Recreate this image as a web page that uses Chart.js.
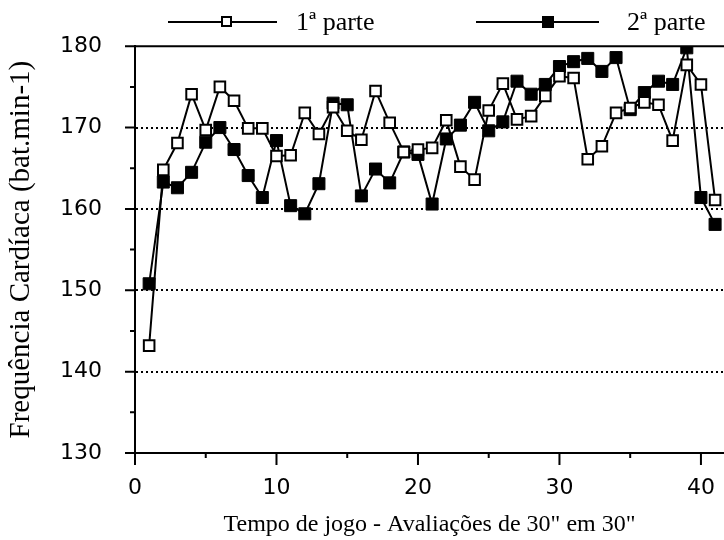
<!DOCTYPE html>
<html>
<head>
<meta charset="utf-8">
<script src="https://cdn.jsdelivr.net/npm/chart.js@4.4.1/dist/chart.umd.min.js"></script>
<style>
  body { margin: 0; background: #fff; }
  #wrap { position: relative; width: 724px; height: 540px; overflow: hidden; }
  .line { position: absolute; height: 2px; background: #000; }
  .sq { position: absolute; box-sizing: border-box; border: 2px solid #000; }
  .txt { position: absolute; font-family: "Liberation Serif", serif; font-size: 26px; line-height: 1; color: #000; white-space: nowrap; }
</style>
</head>
<body>
<div id="wrap">
  <canvas id="chart" width="724" height="540"></canvas>
  <!-- legenda -->
  <div class="line" style="left:168px;top:21px;width:109px"></div>
  <div class="sq" style="left:221px;top:16px;width:11px;height:11px;background:#fff"></div>
  <div class="txt" style="left:296px;top:9px">1ª parte</div>
  <div class="line" style="left:476px;top:21px;width:123px"></div>
  <div class="sq" style="left:542px;top:16px;width:12px;height:12px;background:#000"></div>
  <div class="txt" style="left:627px;top:9px">2ª parte</div>
</div>
<script>
// avaliações de 30" em 30"
const avaliacoes = [1,2,3,4,5,6,7,8,9,10,11,12,13,14,15,16,17,18,19,20,21,22,23,24,25,26,27,28,29,30,31,32,33,34,35,36,37,38,39,40,41];

// FC 1ª parte
const parte1 = [143.2,164.8,168.1,174.1,169.7,175.0,173.3,169.9,169.9,166.5,166.6,171.8,169.2,172.5,169.6,168.5,174.5,170.6,167.0,167.3,
                167.5,170.9,165.2,163.6,172.1,175.4,171.0,171.4,173.9,176.3,176.1,166.1,167.7,171.8,172.4,173.1,172.8,168.4,177.7,175.3,161.1];

// FC 2ª parte
const parte2 = [150.8,163.3,162.6,164.5,168.2,170.0,167.3,164.1,161.4,168.4,160.4,159.4,163.1,173.0,172.8,161.6,164.9,163.2,167.0,166.7,
                160.6,168.6,170.3,173.1,169.6,170.7,175.7,174.1,175.3,177.5,178.1,178.5,176.9,178.6,172.2,174.3,175.7,175.3,179.8,161.4,158.1];

const yMin = 130, yMax = 180;
const xMin = 0, xMax = 41.63;
const gridValues = [140, 150, 160, 170];

const toPoints = arr => arr.map((v, i) => ({ x: avaliacoes[i], y: v }));

// tracinhos dos eixos + linha de cima
const tickMarks = {
  id: 'tickMarks',
  beforeDatasetsDraw(chart) {
    const { ctx, chartArea, scales: { x, y } } = chart;
    ctx.save();
    ctx.strokeStyle = '#000';
    ctx.lineWidth = 2;
    ctx.beginPath();
    y.ticks.forEach(t => {
      const py = y.getPixelForValue(t.value);
      const len = t.value % 10 === 0 ? 10 : 5;
      ctx.moveTo(chartArea.left - len, py);
      ctx.lineTo(chartArea.left, py);
    });
    x.ticks.forEach(t => {
      const px = x.getPixelForValue(t.value);
      const len = t.value % 10 === 0 ? 12 : 5;
      ctx.moveTo(px, chartArea.bottom);
      ctx.lineTo(px, chartArea.bottom + len);
    });
    const top = y.getPixelForValue(yMax);
    ctx.moveTo(chartArea.left, top);
    ctx.lineTo(chartArea.right, top);
    ctx.stroke();
    ctx.restore();
  }
};

const tickFont = { family: 'DejaVu Sans', size: 22 };

new Chart(document.getElementById('chart'), {
  type: 'line',
  data: {
    datasets: [
      {
        label: '1ª parte',
        data: toPoints(parte1),
        borderColor: '#000',
        borderWidth: 2,
        pointStyle: 'rect',
        pointRadius: 7.5,
        pointBorderWidth: 2,
        pointBorderColor: '#000',
        pointBackgroundColor: '#fff',
        tension: 0
      },
      {
        label: '2ª parte',
        data: toPoints(parte2),
        borderColor: '#000',
        borderWidth: 2,
        pointStyle: 'rect',
        pointRadius: 8.5,
        pointBorderWidth: 1,
        pointBorderColor: '#000',
        pointBackgroundColor: '#000',
        tension: 0
      }
    ]
  },
  options: {
    responsive: false,
    animation: false,
    layout: { autoPadding: false, padding: { top: 45, right: 0, left: 0, bottom: 0 } },
    plugins: { legend: { display: false }, tooltip: { enabled: false } },
    scales: {
      x: {
        type: 'linear',
        min: xMin,
        max: xMax,
        afterFit: s => { s.height = 87; s.paddingRight = 0; s.paddingLeft = 0; },
        ticks: {
          stepSize: 5,
          includeBounds: false,
          autoSkip: false,
          maxRotation: 0,
          padding: 22,
          color: '#000',
          font: tickFont,
          callback: v => (v % 10 === 0 ? v : '')
        },
        grid: { display: false, drawTicks: false },
        border: { display: true, color: '#000', width: 2 },
        title: {
          display: true,
          text: 'Tempo de jogo - Avaliações de 30" em 30"',
          color: '#000',
          font: { family: 'Liberation Serif', size: 24 },
          padding: { top: 0, bottom: 1 }
        }
      },
      y: {
        min: yMin,
        max: yMax,
        afterFit: s => { s.width = 135; },
        ticks: {
          stepSize: 5,
          autoSkip: false,
          padding: 33,
          color: '#000',
          font: tickFont,
          callback: v => (v % 10 === 0 ? v : '')
        },
        grid: {
          drawTicks: false,
          lineWidth: 2,
          color: c => (gridValues.includes(c.tick.value) ? '#000' : 'rgba(0,0,0,0)')
        },
        border: { display: true, color: '#000', width: 2, dash: [2, 3] },
        title: {
          display: true,
          text: 'Frequência Cardíaca (bat.min-1)',
          color: '#000',
          font: { family: 'Liberation Serif', size: 29 },
          padding: { top: 4, bottom: 0 }
        }
      }
    }
  },
  plugins: [tickMarks]
});
</script>
</body>
</html>
